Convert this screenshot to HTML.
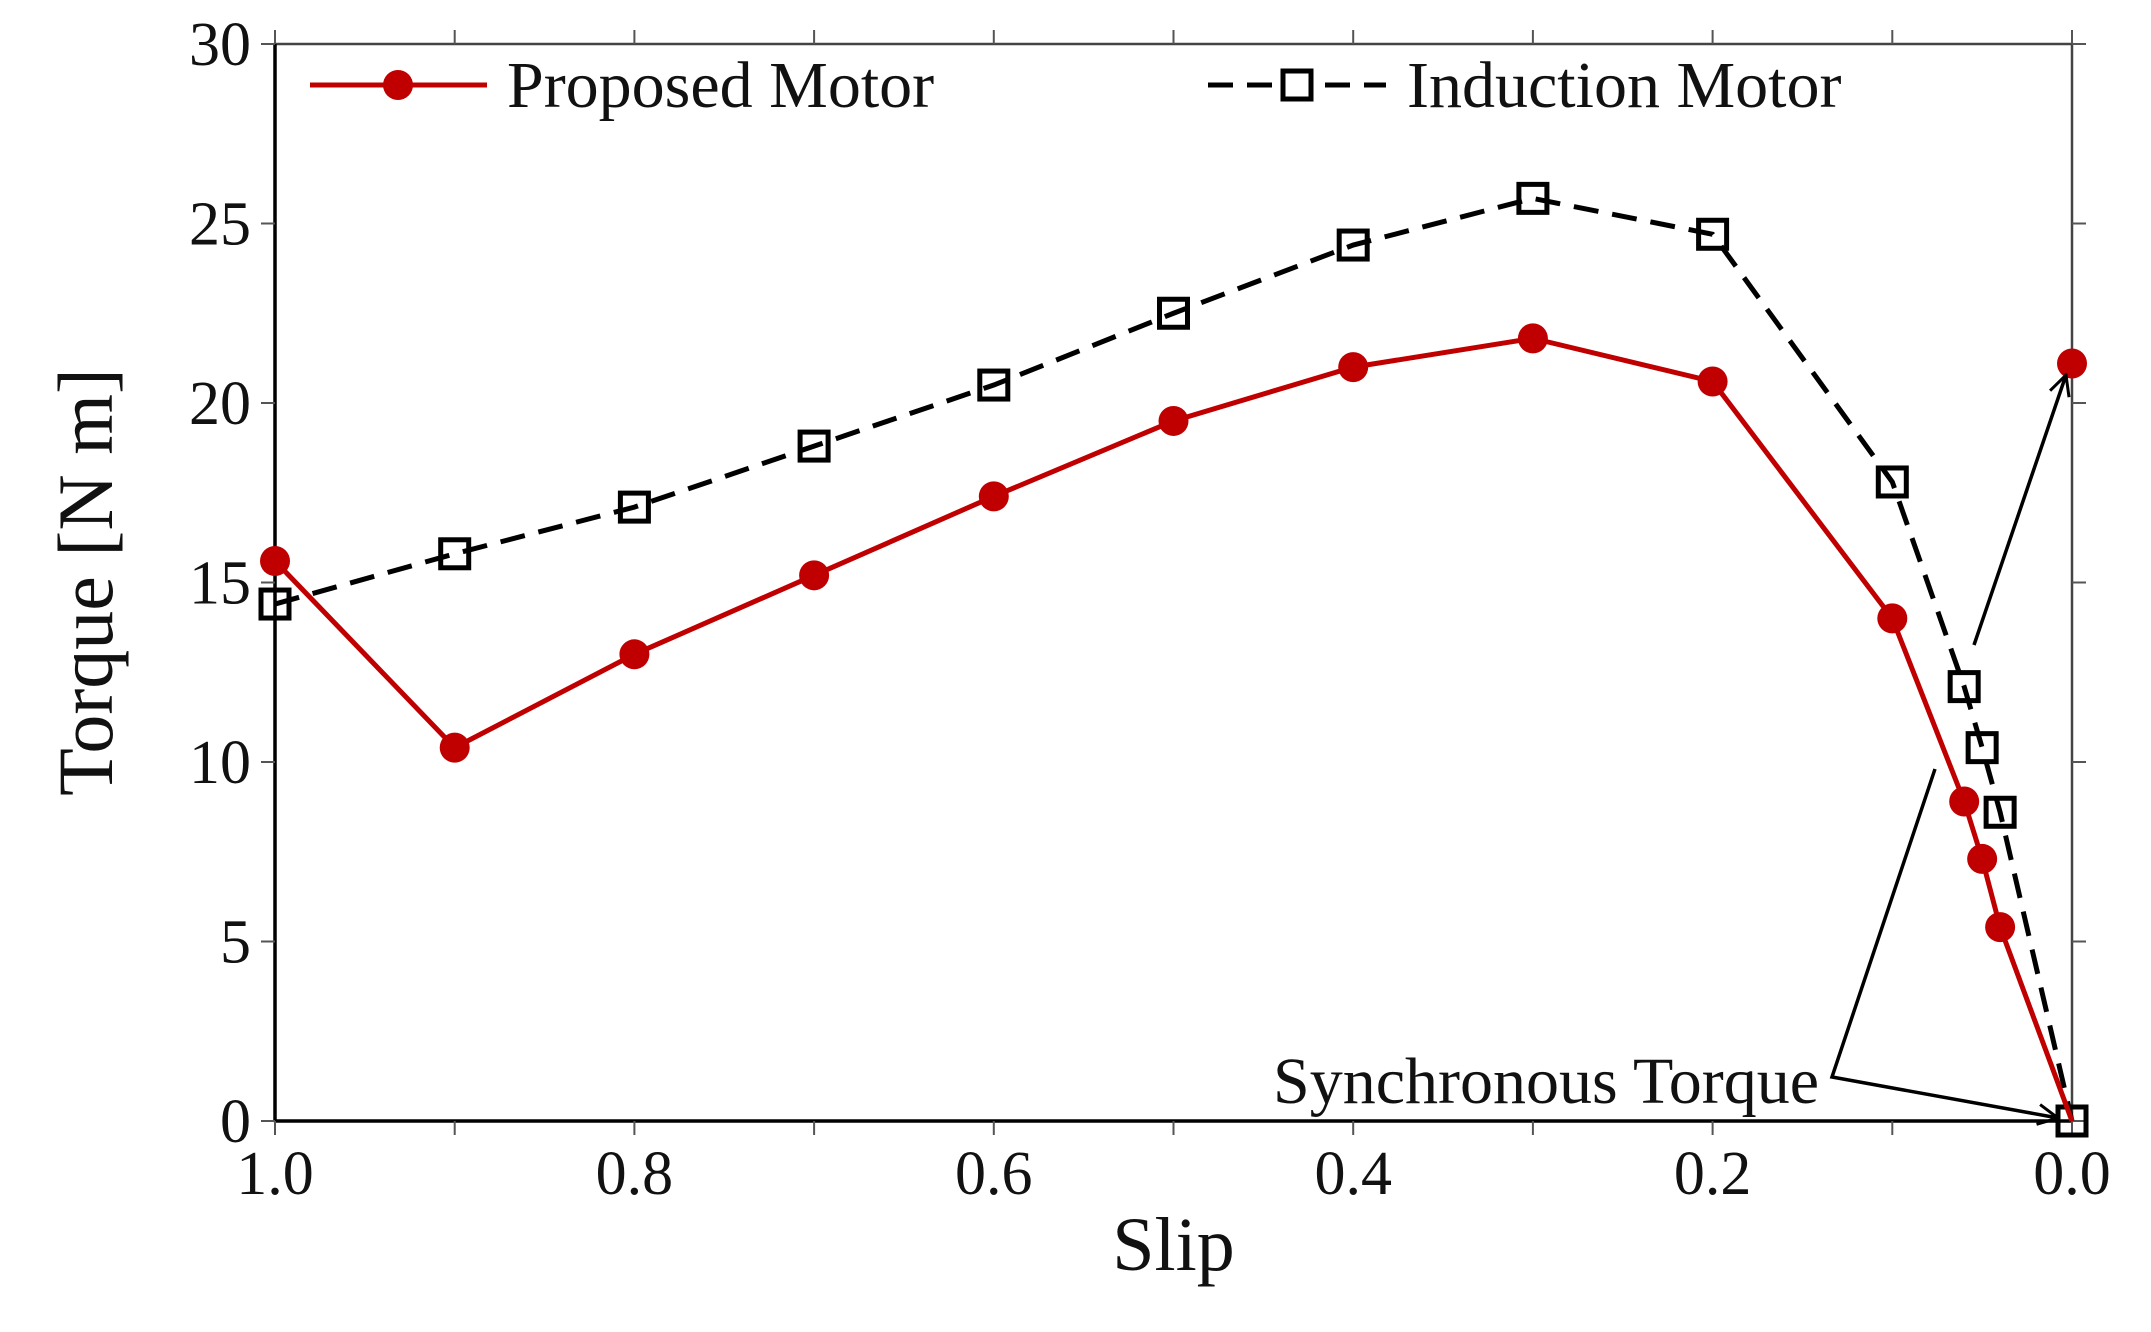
<!DOCTYPE html>
<html><head><meta charset="utf-8"><style>
html,body{margin:0;padding:0;background:#fff}
svg{display:block}
text{font-family:"Liberation Serif",serif;fill:#111}
</style></head><body>
<svg id="chart" width="2151" height="1332" viewBox="0 0 2151 1332" xmlns="http://www.w3.org/2000/svg">
<defs>
<marker id="ah" viewBox="0 0 24 24" refX="22" refY="12" markerWidth="24" markerHeight="24" markerUnits="userSpaceOnUse" orient="auto">
<path d="M2,2 L22,12 L2,22" fill="none" stroke="#000" stroke-width="3"/>
</marker>
</defs>
<g id="grid"></g>
<g id="series"></g>
<g id="annot"></g>
</svg>
<script>
const slipCats = [1.0,0.9,0.8,0.7,0.6,0.5,0.4,0.3,0.2,0.1,0.06,0.05,0.04,0.0];
const proposedVals = [15.6,10.4,13.0,15.2,17.4,19.5,21.0,21.8,20.6,14.0,8.9,7.3,5.4,0];
const inductionVals = [14.4,15.8,17.1,18.8,20.5,22.5,24.4,25.7,24.7,17.8,12.1,10.4,8.6,0];
const proposedSyncSlip = [0.0];
const proposedSyncVal = [21.1];
const xTicks = [1.0,0.9,0.8,0.7,0.6,0.5,0.4,0.3,0.2,0.1,0.0];
const xTickLabels = ["1.0","","0.8","","0.6","","0.4","","0.2","","0.0"];
const yTicks = [0,5,10,15,20,25,30];
const yTickLabels = ["0","5","10","15","20","25","30"];

const NS="http://www.w3.org/2000/svg";
const L=275,R=2072,T=44,B=1121;
const xs=v=>R-(v-0)/(1-0)*(R-L);
const ys=v=>B-v/30*(B-T);
function mk(tag,attrs,parent){const e=document.createElementNS(NS,tag);for(const k in attrs)e.setAttribute(k,attrs[k]);parent.appendChild(e);return e;}
const grid=document.getElementById('grid'),ser=document.getElementById('series'),ann=document.getElementById('annot');

let fr=mk('rect',{x:L,y:T,width:R-L,height:B-T,fill:'none',stroke:'#444','stroke-width':2.5},grid);


let xa=mk('line',{x1:L,y1:B,x2:R,y2:B,stroke:'#000','stroke-width':3.5},grid);


let ya=mk('line',{x1:L,y1:T,x2:L,y2:B,stroke:'#000','stroke-width':3.5},grid);



xTicks.forEach((v,i)=>{
  const x=xs(v);
  mk('line',{x1:x,y1:B,x2:x,y2:B+14,stroke:'#555','stroke-width':2},grid);
  mk('line',{x1:x,y1:T,x2:x,y2:T-14,stroke:'#555','stroke-width':2},grid);
  if(xTickLabels[i]){
    const t=mk('text',{x:x,y:1194,'text-anchor':'middle','font-size':62},grid);
    t.textContent=xTickLabels[i];
    
    
  }
});
yTicks.forEach((v,i)=>{
  const y=ys(v);
  mk('line',{x1:L,y1:y,x2:L-14,y2:y,stroke:'#555','stroke-width':2},grid);
  mk('line',{x1:R,y1:y,x2:R+14,y2:y,stroke:'#555','stroke-width':2},grid);
  const t=mk('text',{x:251,y:y+21,'text-anchor':'end','font-size':62},grid);
  t.textContent=yTickLabels[i];
  
  
});
let xt=mk('text',{x:(L+R)/2,y:1270,'text-anchor':'middle','font-size':76},grid);
xt.textContent='Slip';


let yt=mk('text',{x:0,y:0,'text-anchor':'middle','font-size':78,transform:'translate(112,582) rotate(-90)'},grid);
yt.textContent='Torque [N m]';



let ip=slipCats.map((s,i)=>xs(s)+','+ys(inductionVals[i])).join(' ');
let il=mk('polyline',{points:ip,fill:'none',stroke:'#000','stroke-width':5,'stroke-dasharray':'25,14'},ser);


slipCats.forEach((s,i)=>{
  const r=mk('rect',{x:xs(s)-14,y:ys(inductionVals[i])-14,width:28,height:28,fill:'none',stroke:'#000','stroke-width':5},ser);
  
  
});
let pp=slipCats.map((s,i)=>xs(s)+','+ys(proposedVals[i])).join(' ');
let pl=mk('polyline',{points:pp,fill:'none',stroke:'#c00000','stroke-width':5},ser);


slipCats.forEach((s,i)=>{
  if(i===slipCats.length-1) return;
  const c=mk('circle',{cx:xs(s),cy:ys(proposedVals[i]),r:15,fill:'#c00000'},ser);
  
  
});
proposedSyncSlip.forEach((s,i)=>{
  const c=mk('circle',{cx:xs(s),cy:ys(proposedSyncVal[i]),r:15,fill:'#c00000'},ser);
  
  
});

let a1=mk('polyline',{points:'1935,769 1832,1077 2058,1118',fill:'none',stroke:'#000','stroke-width':3.5,'marker-end':'url(#ah)'},ann);


let a2=mk('line',{x1:1974,y1:645,x2:2066,y2:375,stroke:'#000','stroke-width':3.5,'marker-end':'url(#ah)'},ann);


let at=mk('text',{x:1819,y:1103,'text-anchor':'end','font-size':66},ann);
at.textContent='Synchronous Torque';



const lg=mk('g',{},ann);


let e1=mk('g',{},lg);


mk('line',{x1:310,y1:85,x2:487,y2:85,stroke:'#c00000','stroke-width':5},e1);
mk('circle',{cx:398,cy:85,r:15,fill:'#c00000'},e1);
let t1=mk('text',{x:507,y:107,'font-size':66},e1);t1.textContent='Proposed Motor';
let e2=mk('g',{},lg);


mk('line',{x1:1208,y1:85,x2:1386,y2:85,stroke:'#000','stroke-width':5,'stroke-dasharray':'25,14'},e2);
mk('rect',{x:1283,y:71,width:28,height:28,fill:'#fff',stroke:'#000','stroke-width':5},e2);
let t2=mk('text',{x:1407,y:107,'font-size':66},e2);t2.textContent='Induction Motor';
</script>
</body></html>
